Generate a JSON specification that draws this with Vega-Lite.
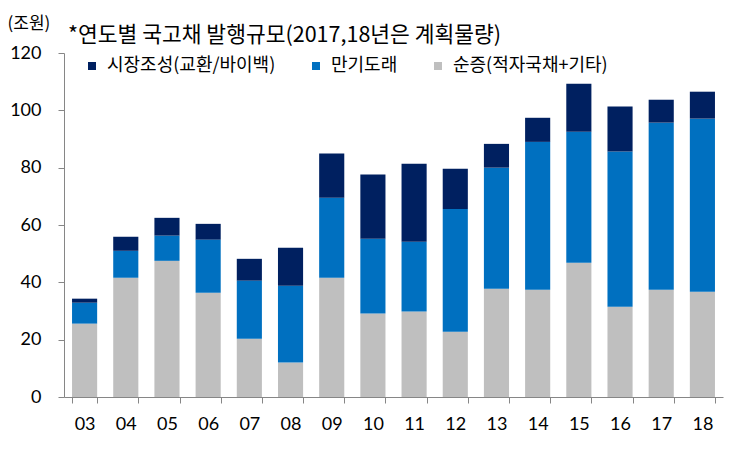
{
  "$schema": "https://vega.github.io/schema/vega-lite/v6.json",
  "autosize": {"type": "none"},
  "width": 659,
  "height": 344,
  "padding": {"left": 64, "top": 53, "right": 27, "bottom": 54},
  "background": "white",
  "title": {
    "text": "*연도별 국고채 발행규모(2017,18년은 계획물량)",
    "anchor": "start",
    "frame": "group",
    "orient": "top",
    "dx": 4,
    "dy": 46,
    "offset": 14,
    "font": "Noto Sans CJK KR",
    "fontSize": 21.5,
    "fontWeight": "normal",
    "color": "#000000"
  },
  "data": {
    "values": [
      {"year": "03", "series": "순증(적자국채+기타)", "value": 25.6},
      {"year": "03", "series": "만기도래", "value": 7.3},
      {"year": "03", "series": "시장조성(교환/바이백)", "value": 1.4},
      {"year": "04", "series": "순증(적자국채+기타)", "value": 41.6},
      {"year": "04", "series": "만기도래", "value": 9.4},
      {"year": "04", "series": "시장조성(교환/바이백)", "value": 4.9},
      {"year": "05", "series": "순증(적자국채+기타)", "value": 47.5},
      {"year": "05", "series": "만기도래", "value": 8.8},
      {"year": "05", "series": "시장조성(교환/바이백)", "value": 6.2},
      {"year": "06", "series": "순증(적자국채+기타)", "value": 36.4},
      {"year": "06", "series": "만기도래", "value": 18.5},
      {"year": "06", "series": "시장조성(교환/바이백)", "value": 5.5},
      {"year": "07", "series": "순증(적자국채+기타)", "value": 20.3},
      {"year": "07", "series": "만기도래", "value": 20.3},
      {"year": "07", "series": "시장조성(교환/바이백)", "value": 7.6},
      {"year": "08", "series": "순증(적자국채+기타)", "value": 12.0},
      {"year": "08", "series": "만기도래", "value": 26.8},
      {"year": "08", "series": "시장조성(교환/바이백)", "value": 13.3},
      {"year": "09", "series": "순증(적자국채+기타)", "value": 41.6},
      {"year": "09", "series": "만기도래", "value": 27.9},
      {"year": "09", "series": "시장조성(교환/바이백)", "value": 15.4},
      {"year": "10", "series": "순증(적자국채+기타)", "value": 29.1},
      {"year": "10", "series": "만기도래", "value": 26.1},
      {"year": "10", "series": "시장조성(교환/바이백)", "value": 22.4},
      {"year": "11", "series": "순증(적자국채+기타)", "value": 29.8},
      {"year": "11", "series": "만기도래", "value": 24.4},
      {"year": "11", "series": "시장조성(교환/바이백)", "value": 27.2},
      {"year": "12", "series": "순증(적자국채+기타)", "value": 22.8},
      {"year": "12", "series": "만기도래", "value": 42.8},
      {"year": "12", "series": "시장조성(교환/바이백)", "value": 14.0},
      {"year": "13", "series": "순증(적자국채+기타)", "value": 37.8},
      {"year": "13", "series": "만기도래", "value": 42.2},
      {"year": "13", "series": "시장조성(교환/바이백)", "value": 8.3},
      {"year": "14", "series": "순증(적자국채+기타)", "value": 37.4},
      {"year": "14", "series": "만기도래", "value": 51.6},
      {"year": "14", "series": "시장조성(교환/바이백)", "value": 8.4},
      {"year": "15", "series": "순증(적자국채+기타)", "value": 46.8},
      {"year": "15", "series": "만기도래", "value": 45.7},
      {"year": "15", "series": "시장조성(교환/바이백)", "value": 16.8},
      {"year": "16", "series": "순증(적자국채+기타)", "value": 31.5},
      {"year": "16", "series": "만기도래", "value": 54.1},
      {"year": "16", "series": "시장조성(교환/바이백)", "value": 15.7},
      {"year": "17", "series": "순증(적자국채+기타)", "value": 37.4},
      {"year": "17", "series": "만기도래", "value": 58.3},
      {"year": "17", "series": "시장조성(교환/바이백)", "value": 8.0},
      {"year": "18", "series": "순증(적자국채+기타)", "value": 36.7},
      {"year": "18", "series": "만기도래", "value": 60.4},
      {"year": "18", "series": "시장조성(교환/바이백)", "value": 9.4}
    ]
  },
  "transform": [
    {"calculate": "datum.series == '순증(적자국채+기타)' ? 0 : (datum.series == '만기도래' ? 1 : 2)", "as": "stackRank"}
  ],
  "mark": {"type": "bar"},
  "encoding": {
    "x": {
      "field": "year",
      "type": "ordinal",
      "scale": {"paddingInner": 0.39, "paddingOuter": 0.195},
      "axis": {
        "title": null,
        "labelAngle": 0,
        "tickBand": "extent",
        "tickSize": 6,
        "tickColor": "#868686",
        "domainColor": "#868686",
        "labelFont": "Lato",
        "labelFontSize": 18,
        "labelColor": "#000000",
        "labelPadding": 12
      }
    },
    "y": {
      "field": "value",
      "type": "quantitative",
      "stack": "zero",
      "scale": {"domain": [0, 120], "nice": false},
      "axis": {
        "values": [0, 20, 40, 60, 80, 100, 120],
        "grid": false,
        "tickSize": 6,
        "tickColor": "#868686",
        "domainColor": "#868686",
        "labelFont": "Lato",
        "labelFontSize": 18,
        "labelColor": "#000000",
        "labelPadding": 17,
        "title": "(조원)",
        "titleAngle": 0,
        "titleX": -57,
        "titleY": -30,
        "titleAlign": "left",
        "titleBaseline": "middle",
        "titleFont": "Noto Sans CJK KR",
        "titleFontSize": 17,
        "titleFontWeight": "normal",
        "titleColor": "#000000"
      }
    },
    "color": {
      "field": "series",
      "type": "nominal",
      "scale": {
        "domain": ["시장조성(교환/바이백)", "만기도래", "순증(적자국채+기타)"],
        "range": ["#002060", "#0070C0", "#BFBFBF"]
      },
      "legend": {
        "title": null,
        "orient": "none",
        "direction": "horizontal",
        "legendX": 19,
        "legendY": 4,
        "symbolType": "square",
        "symbolSize": 64,
        "symbolStrokeWidth": 0,
        "labelFont": "Noto Sans CJK KR",
        "labelFontSize": 18,
        "labelLimit": 400,
        "labelColor": "#000000",
        "labelOffset": 6,
        "columnPadding": 31
      }
    },
    "order": {"field": "stackRank", "type": "quantitative", "sort": "ascending"}
  },
  "config": {"view": {"stroke": null}}
}
